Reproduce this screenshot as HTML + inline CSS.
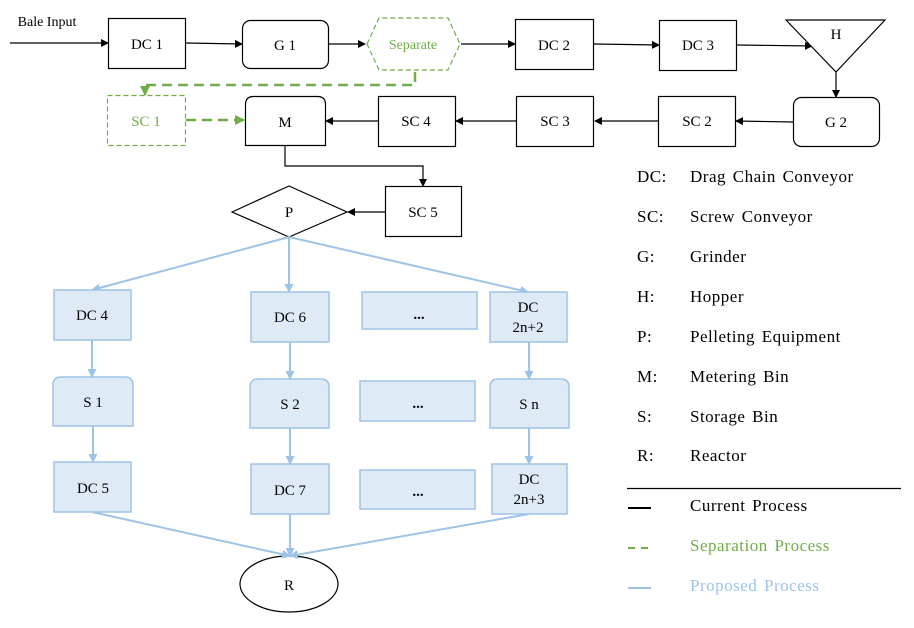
<!DOCTYPE html>
<html><head><style>
html,body{margin:0;padding:0;background:#fff;width:914px;height:628px;overflow:hidden}
svg text{font-family:"Liberation Serif",serif}
</style></head><body>
<svg width="914" height="628" viewBox="0 0 914 628" xmlns="http://www.w3.org/2000/svg">
<defs>
<marker id="ab" markerWidth="8" markerHeight="8" refX="7" refY="4" orient="auto" markerUnits="userSpaceOnUse"><path d="M0,0 L8,4 L0,8 z" fill="#000"/></marker>
<marker id="ag" markerWidth="10" markerHeight="10" refX="9" refY="5" orient="auto" markerUnits="userSpaceOnUse"><path d="M0,0 L10,5 L0,10 z" fill="#70ad47"/></marker>
<marker id="al" markerWidth="9" markerHeight="9" refX="8" refY="4.5" orient="auto" markerUnits="userSpaceOnUse"><path d="M0,0 L9,4.5 L0,9 z" fill="#9dc3e6"/></marker>
</defs>
<g font-size="15" text-anchor="middle" fill="#000">
<text x="47" y="26" font-size="14">Bale Input</text>
</g>
<g stroke="#000" stroke-width="1.2" fill="none" marker-end="url(#ab)">
<line x1="10" y1="43" x2="108" y2="43"/>
<line x1="186" y1="43" x2="242" y2="44"/>
<line x1="329" y1="44" x2="365" y2="44"/>
<line x1="461" y1="44" x2="515" y2="44"/>
<line x1="594" y1="44" x2="659" y2="45"/>
<line x1="737" y1="45" x2="812" y2="46"/>
<line x1="836" y1="72" x2="836" y2="97"/>
<line x1="793" y1="122" x2="736" y2="121"/>
<line x1="658" y1="121" x2="595" y2="121"/>
<line x1="516" y1="121" x2="456" y2="121"/>
<line x1="378" y1="121" x2="326" y2="121"/>
<polyline points="285,145 285,166 423,166 423,186"/>
<line x1="385" y1="212" x2="348" y2="212"/>
</g>
<g stroke="#70ad47" stroke-width="2.5" fill="none" stroke-dasharray="10,6" marker-end="url(#ag)">
<polyline points="415,72 415,85 145,85 145,95"/>
<line x1="186" y1="120" x2="244" y2="120"/>
</g>
<g stroke="#000" stroke-width="1.2" fill="#fff">
<rect x="108.5" y="18.5" width="77" height="50"/>
<rect x="242.5" y="20.5" width="86" height="48" rx="8"/>
<rect x="515.5" y="19.5" width="78" height="50"/>
<rect x="659.5" y="20.5" width="77" height="50"/>
<polygon points="786,20 885,20 836,72"/>
<rect x="793.5" y="97.5" width="86" height="49" rx="8"/>
<rect x="658.5" y="96.5" width="77" height="50"/>
<rect x="516.5" y="96.5" width="77" height="50"/>
<rect x="378.5" y="96.5" width="77" height="50"/>
<path d="M245.5,145.5 V104.5 Q245.5,96.5 253.5,96.5 H317.5 Q325.5,96.5 325.5,104.5 V145.5 Z"/>
<rect x="385.5" y="186.5" width="76" height="50"/>
<polygon points="232,212 289,186 347,212 289,237"/>
<ellipse cx="289" cy="584" rx="49" ry="28"/>
</g>
<g stroke="#70ad47" stroke-width="1.2" fill="#fff" stroke-dasharray="5,3">
<polygon points="367,44 379,18 448,18 460,44 448,70 379,70"/>
<rect x="107.5" y="95.5" width="78" height="50"/>
</g>
<g stroke="#9dc3e6" stroke-width="2" fill="none" marker-end="url(#al)">
<line x1="289" y1="237" x2="92" y2="290"/>
<line x1="289" y1="237" x2="289" y2="292"/>
<line x1="289" y1="237" x2="528" y2="292"/>
<line x1="92" y1="340" x2="92" y2="377"/>
<line x1="290" y1="342" x2="290" y2="379"/>
<line x1="529" y1="342" x2="529" y2="379"/>
<line x1="93" y1="426" x2="93" y2="462"/>
<line x1="290" y1="428" x2="290" y2="464"/>
<line x1="529" y1="428" x2="529" y2="464"/>
<line x1="92" y1="512" x2="290" y2="556"/>
<line x1="290" y1="514" x2="290" y2="556"/>
<line x1="529" y1="514" x2="290" y2="556"/>
</g>
<g stroke="#9dc3e6" stroke-width="1.5" fill="#deebf7">
<rect x="54" y="290" width="77" height="50"/>
<rect x="251" y="292" width="78" height="50"/>
<rect x="362" y="292" width="115" height="37"/>
<rect x="490" y="292" width="77" height="50"/>
<path d="M53,426 V385 Q53,377 61,377 H125 Q133,377 133,385 V426 Z"/>
<path d="M250,428 V387 Q250,379 258,379 H321 Q329,379 329,387 V428 Z"/>
<rect x="360" y="381" width="115" height="40"/>
<path d="M490,428 V387 Q490,379 498,379 H561 Q569,379 569,387 V428 Z"/>
<rect x="54" y="462" width="77" height="50"/>
<rect x="251" y="464" width="78" height="50"/>
<rect x="360" y="470" width="115" height="39"/>
<rect x="492" y="464" width="75" height="50"/>
</g>
<g font-size="15" text-anchor="middle" fill="#000">
<text x="147" y="49">DC 1</text>
<text x="285" y="50">G 1</text>
<text x="413" y="49" fill="#70ad47" font-size="14">Separate</text>
<text x="554" y="50">DC 2</text>
<text x="698" y="50">DC 3</text>
<text x="836" y="39">H</text>
<text x="836" y="127">G 2</text>
<text x="697" y="126">SC 2</text>
<text x="555" y="126">SC 3</text>
<text x="416" y="126">SC 4</text>
<text x="285" y="127">M</text>
<text x="146" y="126" fill="#70ad47">SC 1</text>
<text x="423" y="217">SC 5</text>
<text x="289" y="217">P</text>
<text x="92" y="320">DC 4</text>
<text x="290" y="322">DC 6</text>
<text x="419" y="319" font-weight="bold">...</text>
<text x="528" y="312">DC</text>
<text x="528" y="332">2n+2</text>
<text x="93" y="407">S 1</text>
<text x="290" y="409">S 2</text>
<text x="418" y="408" font-weight="bold">...</text>
<text x="529" y="409">S n</text>
<text x="93" y="493">DC 5</text>
<text x="290" y="495">DC 7</text>
<text x="418" y="496" font-weight="bold">...</text>
<text x="529" y="484">DC</text>
<text x="529" y="504">2n+3</text>
<text x="289" y="590">R</text>
</g>
<g font-size="17" fill="#000" letter-spacing="0.5" word-spacing="2">
<text x="637" y="182">DC:</text><text x="690" y="182">Drag Chain Conveyor</text>
<text x="637" y="222">SC:</text><text x="690" y="222">Screw Conveyor</text>
<text x="637" y="262">G:</text><text x="690" y="262">Grinder</text>
<text x="637" y="302">H:</text><text x="690" y="302">Hopper</text>
<text x="637" y="342">P:</text><text x="690" y="342">Pelleting Equipment</text>
<text x="637" y="382">M:</text><text x="690" y="382">Metering Bin</text>
<text x="637" y="422">S:</text><text x="690" y="422">Storage Bin</text>
<text x="637" y="461">R:</text><text x="690" y="461">Reactor</text>
<text x="690" y="511">Current Process</text>
<text x="690" y="551" fill="#70ad47">Separation Process</text>
<text x="690" y="591" fill="#9dc3e6">Proposed Process</text>
</g>
<line x1="627" y1="488.5" x2="901" y2="488.5" stroke="#000" stroke-width="1.2"/>
<line x1="628" y1="508" x2="651" y2="508" stroke="#000" stroke-width="2"/>
<line x1="628" y1="548" x2="651" y2="548" stroke="#70ad47" stroke-width="2" stroke-dasharray="7,6"/>
<line x1="628" y1="588" x2="651" y2="588" stroke="#9dc3e6" stroke-width="2"/>
</svg>
</body></html>
